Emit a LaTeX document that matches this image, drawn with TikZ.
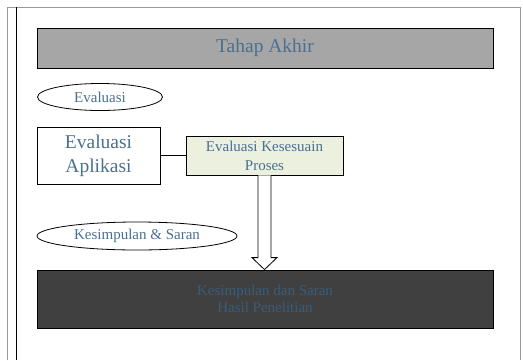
\documentclass[tikz,border=0pt]{standalone}
\usepackage{fontspec}
\setmainfont{Liberation Serif}
\usetikzlibrary{shapes.geometric,calc}
\definecolor{teksbiru}{RGB}{74,112,145}
\definecolor{teksgelap}{RGB}{58,92,122}
\definecolor{abu}{RGB}{166,166,166}
\definecolor{gelap}{RGB}{64,64,64}
\definecolor{hijau}{RGB}{235,241,222}
\tikzset{
	kotak/.style={draw, thick, rectangle, inner sep=0pt, align=center, text=teksbiru},
	oval/.style={draw, thick, ellipse, inner sep=0pt, text=teksbiru, font=\fontsize{15}{17}\selectfont},
	besar/.style={font=\fontsize{19.5}{24}\selectfont},
	kecil/.style={font=\fontsize{15}{18}\selectfont}
}
\begin{document}
\begin{tikzpicture}[x=1pt,y=-1pt]
	\useasboundingbox (0,0) rectangle (523,360);
	% bingkai
	\draw[gray!80] (7,360) -- (7,7) -- (520,7) -- (520,360);
	\draw[thick] (16,7) -- (16,360);
	% kotak
	\node[kotak, besar, fill=abu, minimum width=456pt, minimum height=40pt] (akhir) at (265,48) {Tahap Akhir};
	\node[oval, minimum width=125pt, minimum height=27pt] (evaluasi) at (100,97) {Evaluasi};
	\node[kotak, besar, minimum width=123pt, minimum height=57pt] (aplikasi) at (98.5,155.5) {Evaluasi\\Aplikasi};
	\node[kotak, kecil, fill=hijau, minimum width=157pt, minimum height=39pt, font=\fontsize{15}{19}\selectfont] (proses) at (264.5,155.5) {Evaluasi Kesesuain\\Proses};
	\node[oval, minimum width=200pt, minimum height=28pt] (kesimpulan) at (137,236) {Kesimpulan \& Saran};
	\node[kotak, kecil, fill=gelap, text=teksgelap, minimum width=456pt, minimum height=58pt, font=\fontsize{15}{17}\selectfont] (hasil) at (265,299) {Kesimpulan dan Saran\\Hasil Penelitian};
	% penghubung
	\draw[thick] (aplikasi.east) -- (proses.west);
	\coordinate (pangkal) at (proses.south);
	\coordinate (ujung) at (hasil.north -| proses.south);
	\draw[thick, fill=white] ([xshift=-6.5pt]pangkal) -- ([xshift=-6.5pt,yshift=12pt]ujung)
		-- ([xshift=-12.5pt,yshift=12pt]ujung) -- (ujung) -- ([xshift=12.5pt,yshift=12pt]ujung)
		-- ([xshift=6.5pt,yshift=12pt]ujung) -- ([xshift=6.5pt]pangkal);
\end{tikzpicture}
\end{document}
